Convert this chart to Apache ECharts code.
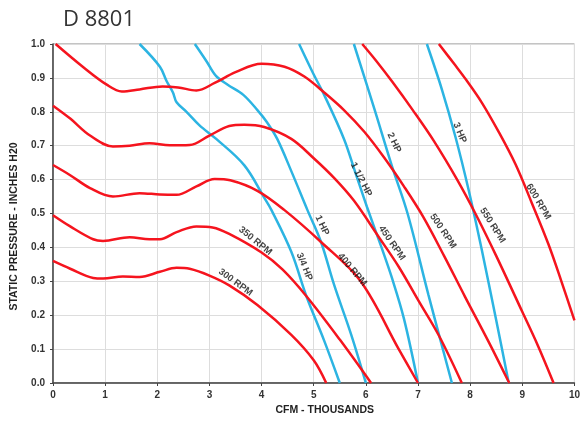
<!DOCTYPE html>
<html>
<head>
<meta charset="utf-8">
<script src="https://cdn.jsdelivr.net/npm/echarts@6/dist/echarts.min.js"></script>
<style>
  html, body { margin: 0; padding: 0; background: #fff; }
  #chart { width: 583px; height: 421px; }
</style>
</head>
<body>
<div id="chart"></div>
<script>
// fan curves, x = CFM thousands, y = static pressure in. H2O
var rpm300 = [[0, 0.36], [0.33, 0.337], [0.77, 0.31], [0.96, 0.308], [1.34, 0.314], [1.66, 0.313], [2.05, 0.328], [2.37, 0.34], [2.62, 0.337], [3.0, 0.317], [3.38, 0.288], [3.92, 0.23], [4.57, 0.142], [5.0, 0.067], [5.24, 0]];
var rpm350 = [[0, 0.495], [0.33, 0.462], [0.77, 0.424], [0.96, 0.419], [1.47, 0.43], [1.85, 0.424], [2.05, 0.424], [2.37, 0.445], [2.75, 0.462], [3.06, 0.459], [3.38, 0.44], [4.0, 0.385], [4.4, 0.335], [4.86, 0.256], [5.5, 0.128], [6.1, 0]];
var rpm400 = [[0, 0.643], [0.33, 0.613], [0.71, 0.575], [1.15, 0.55], [1.66, 0.56], [2.05, 0.556], [2.37, 0.555], [2.75, 0.58], [3.1, 0.602], [3.4, 0.598], [3.92, 0.567], [4.44, 0.51], [5.14, 0.416], [5.9, 0.3], [6.63, 0.1], [7.0, 0]];
var rpm450 = [[0, 0.818], [0.33, 0.78], [0.71, 0.73], [1.15, 0.698], [1.47, 0.7], [1.85, 0.707], [2.24, 0.701], [2.62, 0.702], [3.0, 0.73], [3.38, 0.758], [3.67, 0.762], [4.05, 0.755], [4.57, 0.72], [5.0, 0.663], [5.39, 0.605], [5.77, 0.538], [6.25, 0.43], [6.63, 0.343], [7.02, 0.24], [7.4, 0.14], [7.84, 0]];
var rpm500 = [[0.05, 1.0], [0.57, 0.933], [1.03, 0.88], [1.32, 0.86], [1.66, 0.866], [2.1, 0.875], [2.4, 0.872], [2.75, 0.863], [3.1, 0.885], [3.5, 0.917], [4.0, 0.942], [4.44, 0.933], [4.82, 0.904], [5.2, 0.857], [5.58, 0.805], [5.97, 0.741], [6.35, 0.665], [6.73, 0.58], [7.1, 0.49], [7.5, 0.375], [7.9, 0.255], [8.36, 0.12], [8.75, 0]];
var rpm550 = [[5.93, 1.0], [6.2, 0.95], [6.5, 0.89], [6.9, 0.805], [7.3, 0.715], [7.75, 0.6], [8.1, 0.5], [8.5, 0.375], [9.0, 0.21], [9.3, 0.11], [9.6, 0]];
var rpm600 = [[7.4, 1.0], [7.7, 0.94], [7.92, 0.895], [8.22, 0.828], [8.55, 0.74], [8.87, 0.645], [9.18, 0.532], [9.5, 0.41], [9.75, 0.3], [10, 0.185]];

var hp34 = [[1.66, 1.0], [2.05, 0.933], [2.18, 0.89], [2.3, 0.857], [2.37, 0.828], [2.56, 0.8], [2.81, 0.76], [3.13, 0.72], [3.67, 0.642], [4.05, 0.547], [4.19, 0.51], [4.57, 0.387], [4.86, 0.256], [5.2, 0.125], [5.5, 0]];
var hp1 = [[2.72, 1.0], [2.94, 0.95], [3.13, 0.905], [3.35, 0.88], [3.65, 0.85], [3.92, 0.805], [4.1, 0.77], [4.3, 0.72], [4.57, 0.625], [4.88, 0.51], [5.14, 0.416], [5.39, 0.29], [5.72, 0.142], [6.0, 0]];
var hp112 = [[4.72, 1.0], [5.0, 0.91], [5.2, 0.85], [5.58, 0.72], [5.8, 0.62], [6.02, 0.52], [6.3, 0.4], [6.5, 0.31], [6.73, 0.19], [7.0, 0]];
var hp2 = [[5.77, 1.0], [6.16, 0.81], [6.5, 0.64], [6.8, 0.5], [7.2, 0.26], [7.65, 0]];
var hp3 = [[7.17, 1.0], [7.46, 0.865], [7.72, 0.725], [7.97, 0.57], [8.22, 0.395], [8.5, 0.185], [8.74, 0]];

// curve labels: text, x, y, rotation
var curveLabels = [
  ['300 RPM', 3.5, 0.297, -36],
  ['350 RPM', 3.88, 0.419, -39],
  ['400 RPM', 5.74, 0.334, -50],
  ['450 RPM', 6.5, 0.413, -55],
  ['500 RPM', 7.48, 0.448, -56],
  ['550 RPM', 8.43, 0.465, -58],
  ['600 RPM', 9.31, 0.535, -59],
  ['3/4 HP', 4.82, 0.343, -68],
  ['1 HP', 5.16, 0.465, -65],
  ['1 1/2 HP', 5.91, 0.6, -63],
  ['2 HP', 6.54, 0.709, -65],
  ['3 HP', 7.8, 0.738, -67]
];

var red = '#f5141e';
var blue = '#2cb4e2';

function curve(name, data, color) {
  return {
    name: name,
    type: 'line',
    data: data,
    smooth: 0.35,
    showSymbol: false,
    symbol: 'none',
    lineStyle: { color: color, width: 2.5 },
    silent: true,
    z: color === red ? 3 : 2
  };
}

var chart = echarts.init(document.getElementById('chart'));

var option = {
  backgroundColor: '#fff',
  animation: false,
  title: {
    text: 'D 8801',
    left: 58,
    top: 4,
    textStyle: { fontFamily: 'Open Sans', fontWeight: 'normal', fontSize: 22, color: '#333' }
  },
  grid: {
    left: 53,
    right: 7,
    top: 44,
    bottom: 33,
    show: true,
    borderColor: '#888',
    borderWidth: 1
  },
  xAxis: {
    type: 'value',
    min: 0,
    max: 10,
    interval: 1,
    name: 'CFM - THOUSANDS',
    nameLocation: 'middle',
    nameGap: 22,
    nameTextStyle: { fontFamily: 'Liberation Sans', fontWeight: 'bold', fontSize: 10.5, color: '#222', padding: [0, 0, 0, 22] },
    axisLine: { show: true, lineStyle: { color: '#444', width: 1.5 } },
    axisTick: { show: true, length: 3, lineStyle: { color: '#444' } },
    axisLabel: { fontFamily: 'Liberation Sans', fontWeight: 'bold', fontSize: 10, color: '#333', margin: 7 },
    splitLine: { show: true, lineStyle: { color: '#ddd' } }
  },
  yAxis: {
    type: 'value',
    min: 0,
    max: 1,
    interval: 0.1,
    name: 'STATIC PRESSURE - INCHES H20',
    nameLocation: 'middle',
    nameGap: 33,
    nameTextStyle: { fontFamily: 'Liberation Sans', fontWeight: 'bold', fontSize: 10.5, color: '#222', padding: [0, 26, 0, 0] },
    axisLine: { show: true, lineStyle: { color: '#444', width: 1.5 } },
    axisTick: { show: true, length: 3, lineStyle: { color: '#444' } },
    axisLabel: {
      fontFamily: 'Liberation Sans', fontWeight: 'bold', fontSize: 10, color: '#333', margin: 8,
      formatter: function (v) { return v.toFixed(1); }
    },
    splitLine: { show: true, lineStyle: { color: '#ddd' } }
  },
  series: [
    curve('3/4 HP', hp34, blue),
    curve('1 HP', hp1, blue),
    curve('1 1/2 HP', hp112, blue),
    curve('2 HP', hp2, blue),
    curve('3 HP', hp3, blue),
    curve('300 RPM', rpm300, red),
    curve('350 RPM', rpm350, red),
    curve('400 RPM', rpm400, red),
    curve('450 RPM', rpm450, red),
    curve('500 RPM', rpm500, red),
    curve('550 RPM', rpm550, red),
    curve('600 RPM', rpm600, red),
    {
      name: 'labels',
      type: 'scatter',
      symbolSize: 0,
      silent: true,
      z: 5,
      data: curveLabels.map(function (l) {
        return {
          name: l[0],
          value: [l[1], l[2]],
          label: {
            show: true,
            position: 'inside',
            formatter: l[0],
            rotate: l[3],
            fontFamily: 'Liberation Sans',
            fontWeight: 'bold',
            fontSize: 9.5,
            color: '#111'
          }
        };
      })
    }
  ]
};

chart.setOption(option);
</script>
</body>
</html>
